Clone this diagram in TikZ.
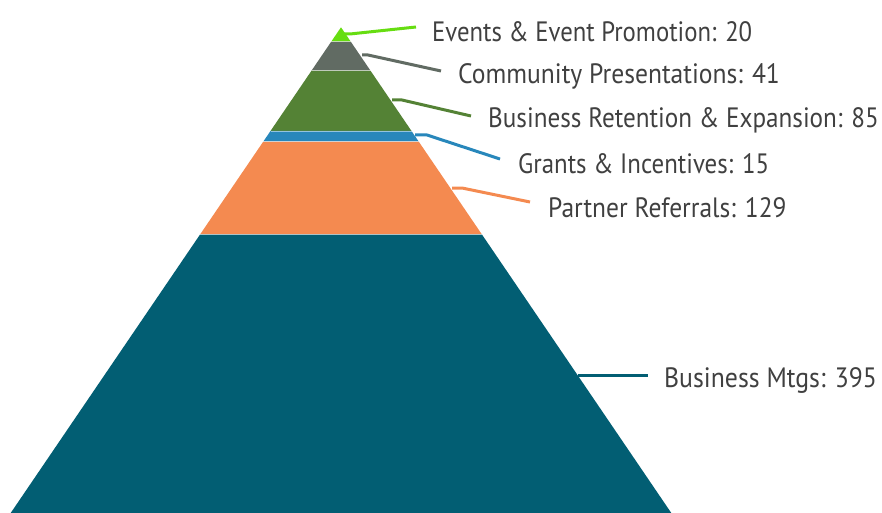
\documentclass[tikz,border=0pt]{standalone}
\usepackage{fontspec}
\setmainfont{PT Sans}
\usepackage{graphicx}
\definecolor{cEv}{HTML}{66DD11}
\definecolor{cCo}{HTML}{616B63}
\definecolor{cBR}{HTML}{548235}
\definecolor{cGr}{HTML}{2887BB}
\definecolor{cPa}{HTML}{F48A50}
\definecolor{cMt}{HTML}{025E73}
\definecolor{txt}{HTML}{404040}
\newcommand\fitlbl[2]{\setbox0\hbox{#2}\dimen0=\wd0\pgfmathsetmacro\fac{#1/\the\dimen0}\scalebox{\fac}[1]{#2}}
\begin{document}
\begin{tikzpicture}[x=1pt,y=-1pt,
  lbl/.style={anchor=base west,inner sep=0pt,text=txt,font=\fontsize{28}{30}\selectfont},
  lead/.style={line width=3pt,line join=round}]
\useasboundingbox (0,0) rectangle (882,513);
% pyramid layers
\fill[cEv] (341,27.3) -- (350.8,41.7) -- (331.2,41.7) -- cycle;
\fill[cCo] (331.2,41.7) -- (350.8,41.7) -- (370.5,70.7) -- (311.5,70.7) -- cycle;
\fill[cBR] (311.5,70.7) -- (370.5,70.7) -- (411.5,131) -- (270.5,131) -- cycle;
\fill[cGr] (270.5,131) -- (411.5,131) -- (418.8,141.7) -- (263.2,141.7) -- cycle;
\fill[cPa] (263.2,141.7) -- (418.8,141.7) -- (481.8,234.3) -- (200.2,234.3) -- cycle;
\fill[cMt] (200.2,234.3) -- (481.8,234.3) -- (671.3,513) -- (10.7,513) -- cycle;
% thin separators
\foreach \ya/\xa/\xb in {41.7/331.2/350.8,70.7/311.5/370.5,131/270.5/411.5,141.7/263.2/418.8,234.3/200.2/481.8}
  \draw[white,opacity=0.5,line width=0.6pt] (\xa,\ya) -- (\xb,\ya);
% labels
\node[lbl] (ev) at (432,41.7) {\fitlbl{320}{Events \& Event Promotion: 20}};
\node[lbl] (co) at (458,84) {\fitlbl{321.7}{Community Presentations: 41}};
\node[lbl] (br) at (488,127.3) {\fitlbl{390.7}{Business Retention \& Expansion: 85}};
\node[lbl] (gr) at (518,173.3) {\fitlbl{251}{Grants \& Incentives: 15}};
\node[lbl] (pa) at (548,217.3) {\fitlbl{238.4}{Partner Referrals: 129}};
\node[lbl] (mt) at (664,387.3) {\fitlbl{212.7}{Business Mtgs: 395}};
% leader end coordinates
\coordinate (evs) at (344,34);   \coordinate (eve) at (416,27);
\coordinate (cos) at (362,55);   \coordinate (coe) at (441,71);
\coordinate (brs) at (392,100);  \coordinate (bre) at (471,116);
\coordinate (grs) at (415,135);  \coordinate (gre) at (500,159);
\coordinate (pas) at (452,188);  \coordinate (pae) at (530,202);
\coordinate (mts) at (578,375);  \coordinate (mte) at (648,375);
\draw[lead,cEv] (evs) -- ++(6,0) -- (eve);
\draw[lead,cCo] (cos) -- ++(6,0) -- (coe);
\draw[lead,cBR] (brs) -- ++(10,0) -- (bre);
\draw[lead,cGr] (grs) -- ++(12,0) -- (gre);
\draw[lead,cPa] (pas) -- ++(10,0) -- (pae);
\draw[lead,cMt] (mts) -- (mte);
\end{tikzpicture}
\end{document}
